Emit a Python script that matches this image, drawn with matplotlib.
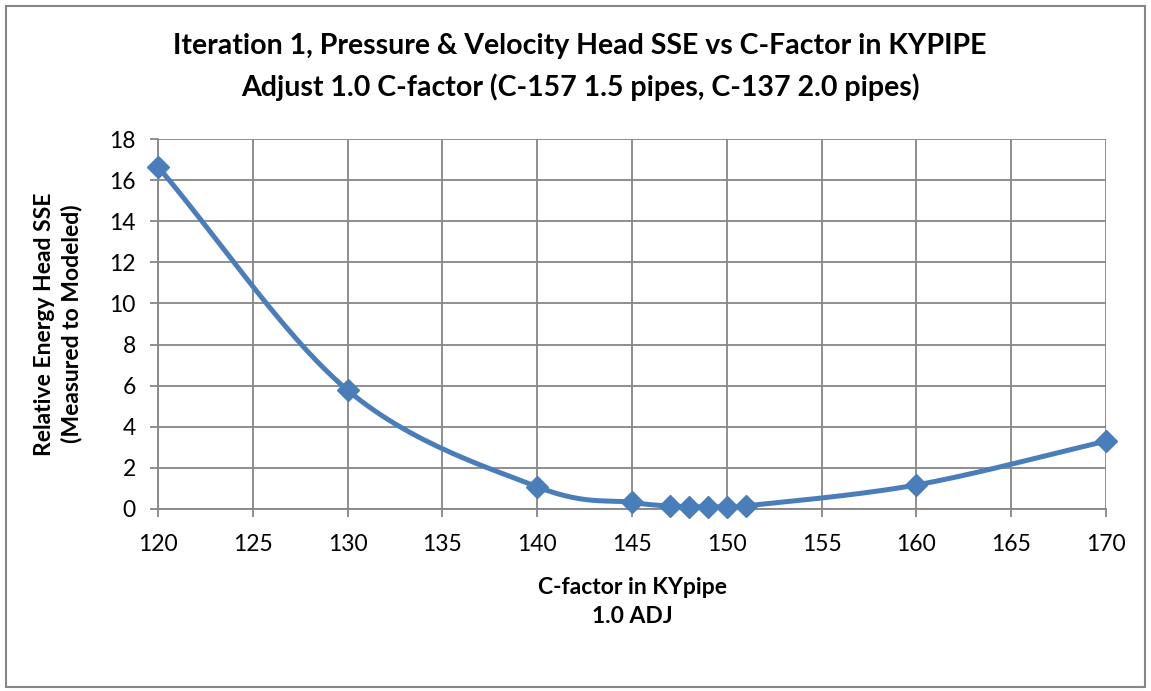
import numpy as np
import matplotlib
matplotlib.use("Agg")
import matplotlib.pyplot as plt
from matplotlib.patches import Rectangle

plt.rcParams['font.family'] = ['Lato', 'DejaVu Sans']

# data
c_factor = [120, 130, 140, 145, 147, 148, 149, 150, 151, 160, 170]
sse = [16.65, 5.78, 1.08, 0.32, 0.15, 0.12, 0.10, 0.12, 0.15, 1.17, 3.30]

title = ("Iteration 1, Pressure & Velocity Head SSE vs C-Factor in KYPIPE\n"
         "Adjust 1.0 C-factor (C-157 1.5 pipes, C-137 2.0 pipes)")
xlabel = "C-factor in KYpipe\n1.0 ADJ"
ylabel = "Relative Energy Head SSE\n(Measured to Modeled)"


def smooth(x, y, n=30):
    # catmull-rom style smoothing, like excel's smoothed line
    x = np.asarray(x, float)
    y = np.asarray(y, float)
    px = np.concatenate([[2 * x[0] - x[1]], x, [2 * x[-1] - x[-2]]])
    py = np.concatenate([[2 * y[0] - y[1]], y, [2 * y[-1] - y[-2]]])
    xs, ys = [], []
    for i in range(1, len(px) - 2):
        p0, p1, p2, p3 = (np.array([px[j], py[j]]) for j in range(i - 1, i + 3))
        c1 = p1 + (p2 - p0) / 6
        c2 = p2 - (p3 - p1) / 6
        t = np.linspace(0, 1, n)[:, None]
        b = ((1 - t) ** 3) * p1 + 3 * ((1 - t) ** 2) * t * c1 + 3 * (1 - t) * t ** 2 * c2 + t ** 3 * p2
        xs.extend(b[:, 0])
        ys.extend(b[:, 1])
    return np.array(xs), np.array(ys)


fig = plt.figure(figsize=(11.51, 6.91), dpi=100)
fig.patches.append(Rectangle((0.005, 0.006), 0.99, 0.985, transform=fig.transFigure,
                             fill=False, edgecolor='#868686', linewidth=1.5))
ax = fig.add_axes([0.1373, 0.2634, 0.8236, 0.5354])

sx, sy = smooth(c_factor, sse)
ax.plot(sx, sy, color='#4A7EBB', linewidth=3.6, solid_capstyle='round', zorder=3)
ax.plot(c_factor, sse, linestyle='none', marker='D', markersize=11,
        color='#4A7EBB', zorder=4, clip_on=False)

ax.set_xlim(120, 170)
ax.set_ylim(0, 18)
ax.set_xticks(np.arange(120, 171, 5))
ax.set_yticks(np.arange(0, 19, 2))
ax.grid(True, color='#868686', linewidth=1.3)
ax.set_axisbelow(True)
for s in ['top', 'right']:
    ax.spines[s].set_visible(False)
for s in ['left', 'bottom']:
    ax.spines[s].set_color('#868686')
    ax.spines[s].set_linewidth(1.3)
ax.tick_params(axis='both', labelsize=16.5, color='#868686', width=1.3, length=6)
ax.tick_params(axis='x', pad=12)
ax.tick_params(axis='y', pad=10)

ax.set_xlabel(xlabel, fontsize=16.5, fontweight='bold', labelpad=16, linespacing=1.45)
ax.set_ylabel(ylabel, fontsize=16.5, fontweight='bold', labelpad=19, linespacing=1.35)
fig.text(0.504, 0.903, title, ha='center', va='center', fontsize=20.5,
         fontweight='bold', linespacing=1.6)

fig.savefig('out.png', dpi=100)
